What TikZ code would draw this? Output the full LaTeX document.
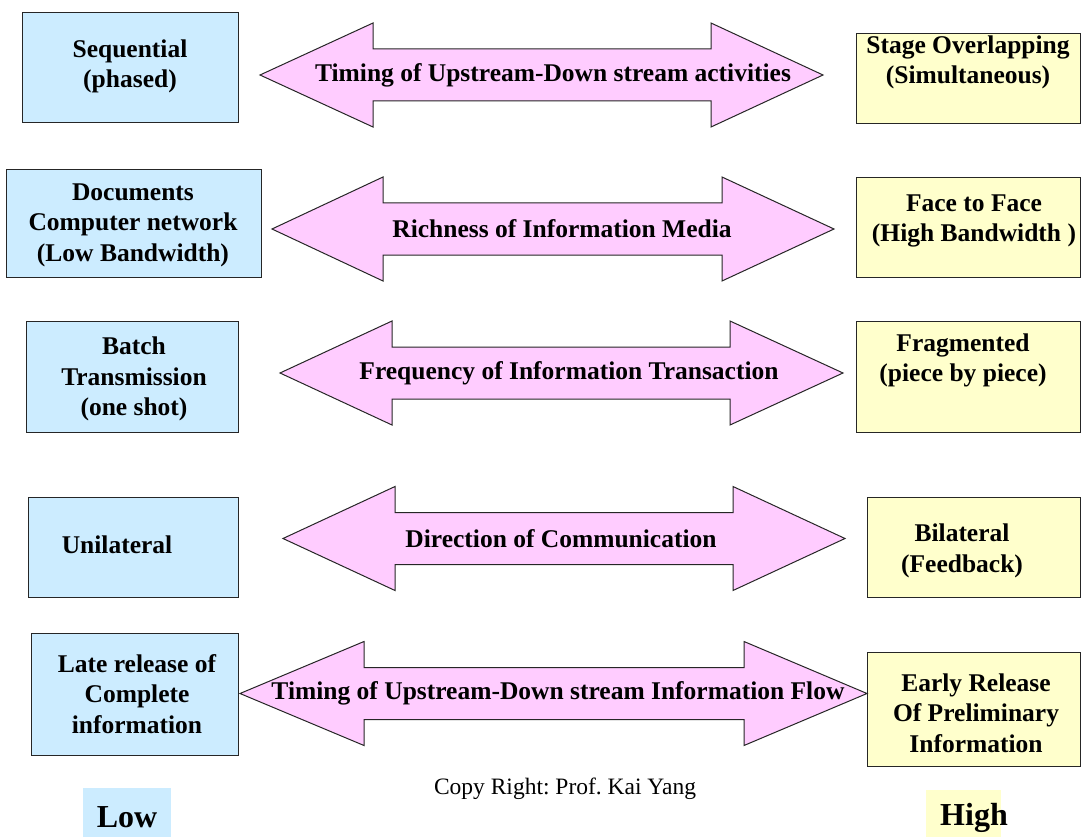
\documentclass[tikz,border=0pt]{standalone}
\usepackage{fontspec}
\setmainfont{Liberation Serif}
\usetikzlibrary{positioning}

\definecolor{lowblue}{RGB}{204,236,255}
\definecolor{highyellow}{RGB}{255,255,204}
\definecolor{arrowpink}{RGB}{255,204,255}

\begin{document}
\begin{tikzpicture}[x=1pt, y=-1pt,
    lowbox/.style={draw=black!85, line width=1.2pt, fill=lowblue, anchor=north west},
    highbox/.style={draw=black!85, line width=1.2pt, fill=highyellow, anchor=north west},
    dblarrow/.style={draw=black!85, line width=1pt, fill=arrowpink, line join=miter},
    boxtext/.style={font=\bfseries\fontsize{25.5}{30.5}\selectfont, align=center, inner sep=0pt},
    scaletext/.style={font=\bfseries\fontsize{32}{36}\selectfont, inner sep=0pt}
    ]
    \useasboundingbox (0,0) rectangle (1081,837);

    % Low end boxes (left column)
    \foreach \nm/\xa/\ya/\xb/\yb in {seq/22/12/238/122, doc/6/169/261/277,
        batch/26/321/238/432, uni/28/497/238/597, late/31/633/238/755} {
        \node[lowbox, minimum width={(\xb-\xa)*1pt}, minimum height={(\yb-\ya)*1pt}]
            (\nm) at (\xa,\ya) {};
    }

    % High end boxes (right column)
    \foreach \nm/\xa/\ya/\xb/\yb in {stage/856/33/1080/123, face/856/177/1080/277,
        frag/856/321/1080/432, bil/867/497/1080/597, early/867/652/1080/766} {
        \node[highbox, minimum width={(\xb-\xa)*1pt}, minimum height={(\yb-\ya)*1pt}]
            (\nm) at (\xa,\ya) {};
    }

    % Double arrows with their dimension names
    \foreach \nm/\xa/\xb/\xc/\xd/\yc/\tx/\txt in {
        timing/260/373/711/823/75/553/{Timing of Upstream-Down stream activities},
        rich/272/383/722/834/229/562/{Richness of Information Media},
        freq/280/392/730/843/373/569/{Frequency of Information Transaction},
        dir/283/395/733/845/538.5/561/{Direction of Communication},
        flow/240/364/744/867/693.5/558/{Timing of Upstream-Down stream Information Flow}} {
        \draw[dblarrow] (\xa,\yc) -- (\xb,\yc-52) -- (\xb,\yc-26) -- (\xc,\yc-26)
            -- (\xc,\yc-52) -- (\xd,\yc) -- (\xc,\yc+52) -- (\xc,\yc+26)
            -- (\xb,\yc+26) -- (\xb,\yc+52) -- cycle;
        \node[boxtext] (\nm) at (\tx,\yc) {\txt};
    }

    % Box texts
    \node[boxtext] (seq-t) at (130,66.5) {Sequential\\(phased)};
    \node[boxtext] (doc-t) at (133,225) {Documents\\Computer network\\(Low Bandwidth)};
    \node[boxtext] (batch-t) at (134,379) {Batch\\Transmission\\(one shot)};
    \node[boxtext] (uni-t) at (117,545) {Unilateral};
    \node[boxtext] (late-t) at (137,694) {Late release of\\Complete\\information};

    \node[boxtext] (stage-t) at (968,62.5) {Stage Overlapping\\(Simultaneous)};
    \node[boxtext] (face-t) at (974,221) {Face to Face\\(High Bandwidth )};
    \node[boxtext] (frag-t) at (963,360.5) {Fragmented\\(piece by piece)};
    \node[boxtext] (bil-t) at (962,551) {Bilateral\\(Feedback)};
    \node[boxtext] (early-t) at (976,713) {Early Release\\Of Preliminary\\Information};

    % Scale ends
    \node[fill=lowblue, minimum width=88pt, minimum height=58pt] (lowbg) at (127,817) {};
    \node[scaletext] (low) at (127,817) {Low};
    \node[fill=highyellow, minimum width=75pt, minimum height=56pt] (highbg) at (963.5,818) {};
    \node[scaletext] (high) at (974,818) {High};

    \node[font=\fontsize{23.5}{28}\selectfont\frenchspacing, inner sep=0pt] (copy) at (565,789)
        {Copy Right: Prof. Kai Yang};
\end{tikzpicture}
\end{document}
